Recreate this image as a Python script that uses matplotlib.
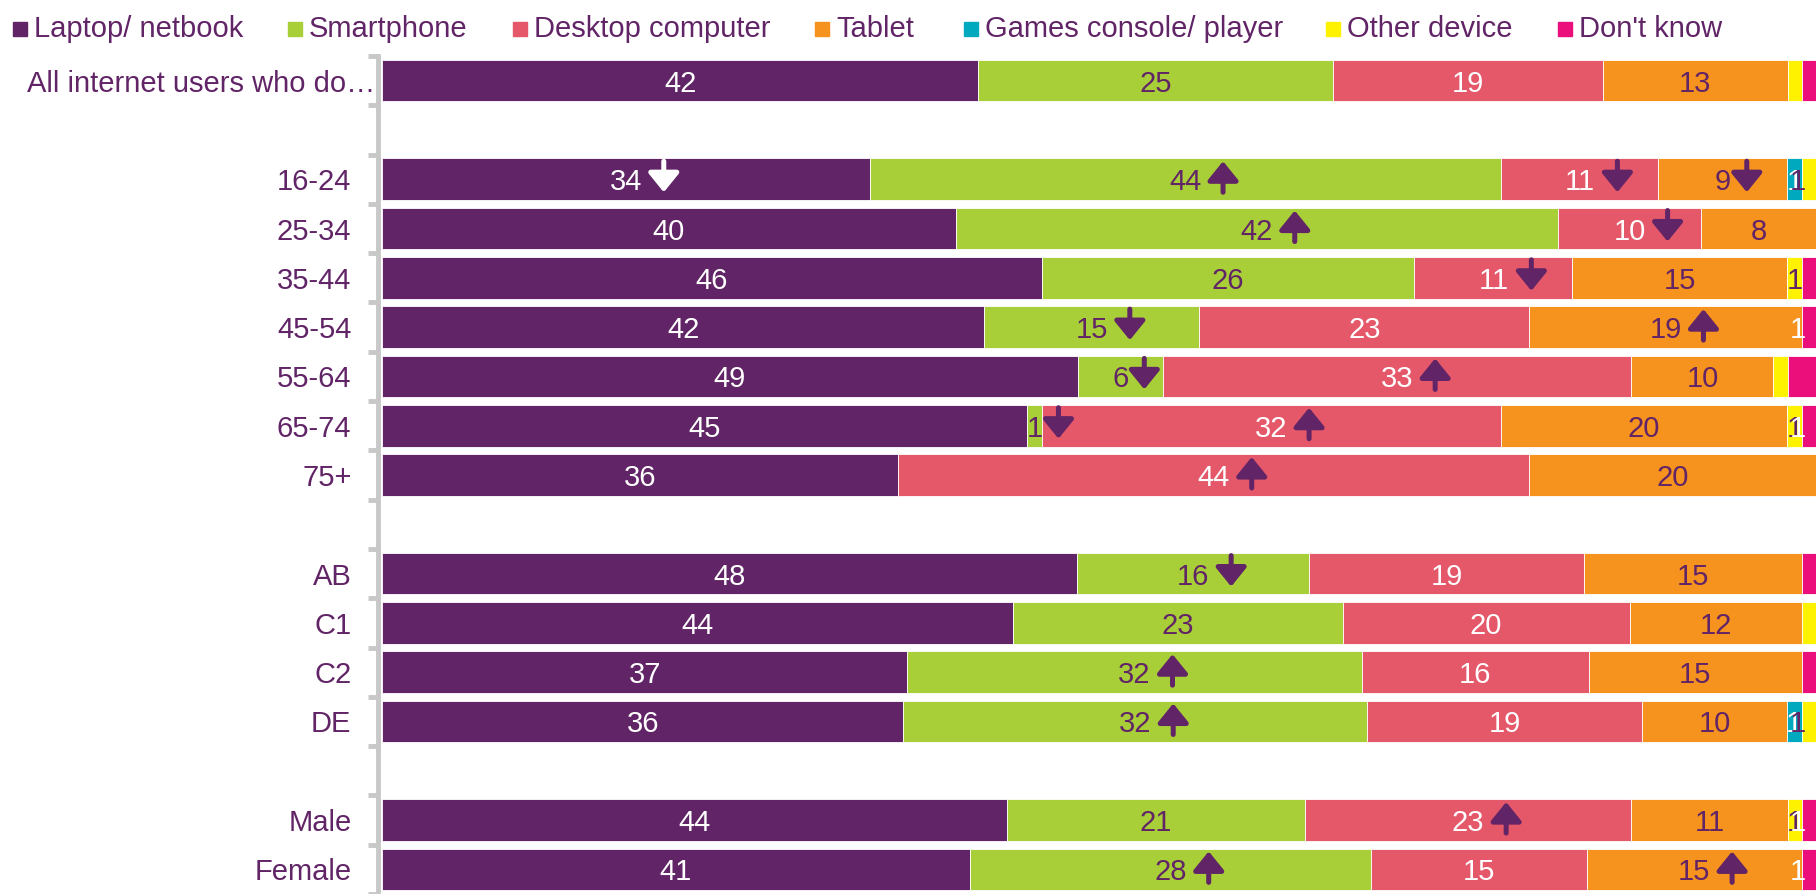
import numpy as np
import matplotlib.pyplot as plt
from matplotlib.patches import Rectangle
from matplotlib.transforms import offset_copy

plt.rcParams['font.family'] = ['Liberation Sans', 'DejaVu Sans']

# Rows, grouped; a blank slot is left between groups
groups = [
    ['All internet users who do…'],
    ['16-24', '25-34', '35-44', '45-54', '55-64', '65-74', '75+'],
    ['AB', 'C1', 'C2', 'DE'],
    ['Male', 'Female'],
]

series = ['Laptop/ netbook', 'Smartphone', 'Desktop computer', 'Tablet',
          'Games console/ player', 'Other device', "Don't know"]

laptop     = [42, 34, 40, 46, 42, 49, 45, 36, 48, 44, 37, 36, 44, 41]
smartphone = [25, 44, 42, 26, 15, 6, 1, 0, 16, 23, 32, 32, 21, 28]
desktop    = [19, 11, 10, 11, 23, 33, 32, 44, 19, 20, 16, 19, 23, 15]
tablet     = [13, 9, 8, 15, 19, 10, 20, 20, 15, 12, 15, 10, 11, 15]
games      = [0, 1, 0, 0, 0, 0, 0, 0, 0, 0, 0, 1, 0, 0]
other      = [1, 1, 0, 1, 0, 1, 1, 0, 0, 1, 0, 1, 1, 0]
dont_know  = [1, 0, 0, 1, 1, 2, 1, 0, 1, 0, 1, 0, 1, 1]

# significant differences vs all users
sig = {
    ('16-24', 'Laptop/ netbook'): 'down', ('16-24', 'Smartphone'): 'up',
    ('16-24', 'Desktop computer'): 'down', ('16-24', 'Tablet'): 'down',
    ('25-34', 'Smartphone'): 'up', ('25-34', 'Desktop computer'): 'down',
    ('35-44', 'Desktop computer'): 'down',
    ('45-54', 'Smartphone'): 'down', ('45-54', 'Tablet'): 'up',
    ('55-64', 'Smartphone'): 'down', ('55-64', 'Desktop computer'): 'up',
    ('65-74', 'Smartphone'): 'down', ('65-74', 'Desktop computer'): 'up',
    ('75+', 'Desktop computer'): 'up',
    ('AB', 'Smartphone'): 'down',
    ('C2', 'Smartphone'): 'up', ('DE', 'Smartphone'): 'up',
    ('Male', 'Desktop computer'): 'up',
    ('Female', 'Smartphone'): 'up', ('Female', 'Tablet'): 'up',
}

# small segments left without a value label
unlabelled = {
    ('All internet users who do…', 'Other device'), ('All internet users who do…', "Don't know"),
    ('35-44', "Don't know"), ('55-64', 'Other device'), ('55-64', "Don't know"),
    ('AB', "Don't know"), ('C1', 'Other device'), ('C2', "Don't know"),
}

purple = '#612466'
colors = ['#612466', '#a8cf38', '#e5586a', '#f6921e', '#00a9be', '#fff200', '#ea0f7a']
label_colors = ['white', purple, 'white', purple, 'white', purple, 'white']

# slot positions with gaps between groups
rows, ypos = [], []
slot = 0
for g in groups:
    for r in g:
        rows.append(r)
        ypos.append(slot)
        slot += 1
    slot += 1
ypos = np.array(ypos)
last = ypos[-1]

data = np.array([laptop, smartphone, desktop, tablet, games, other, dont_know], dtype=float)
shares = data / data.sum(axis=0) * 100

fig = plt.figure(figsize=(18.16, 8.94), dpi=100)
ax = fig.add_axes([382 / 1816, 0.0, 1 - 382 / 1816, 1 - 56 / 894])

left = np.zeros(len(rows))
bar_h = 0.845
for i, name in enumerate(series):
    ax.barh(ypos, shares[i], left=left, height=bar_h, color=colors[i],
            edgecolor='white', linewidth=0.6)
    for j, r in enumerate(rows):
        v = data[i, j]
        if v == 0 or (r, name) in unlabelled:
            continue
        xc = min(left[j] + shares[i, j] / 2, 98.75)
        txt = '%d' % v
        ax.text(xc, ypos[j], txt, ha='center', va='center_baseline', fontsize=21,
                color=label_colors[i])
        d = sig.get((r, name))
        if d:
            # arrow sits just right of the value, a little above centre
            dx = 38 if len(txt) > 1 else 24
            tip = 18 if d == 'up' else -13
            tr = offset_copy(ax.transData, fig=fig, x=dx, y=tip, units='dots')
            ac = 'white' if i == 0 else purple
            ax.annotate('', xy=(xc, ypos[j]), xycoords=tr,
                        xytext=(0, -31 if d == 'up' else 31), textcoords='offset pixels',
                        arrowprops=dict(arrowstyle='-|>,head_length=0.58,head_width=0.47',
                                        mutation_scale=20, lw=3.6, color=ac,
                                        shrinkA=0, shrinkB=0))
    left += shares[i]

ax.set_xlim(0, 100)
ax.set_ylim(last + 0.48, -0.5)

for s in ['top', 'right', 'bottom']:
    ax.spines[s].set_visible(False)
ax.spines['left'].set_color('#c8c8c8')
ax.spines['left'].set_linewidth(3.5)
ax.spines['left'].set_position(('outward', 3))
ax.set_xticks([])

ax.set_yticks(ypos[1:])
ax.set_yticklabels(rows[1:], fontsize=21, color=purple)
ax.tick_params(axis='y', which='major', length=0, pad=19)
ax.set_yticks(np.arange(-0.5, last + 0.6, 1), minor=True)
ax.tick_params(axis='y', which='minor', length=7, width=3.5, color='#c8c8c8')

# the long first label sits right up against the axis
ax.text(-0.45, ypos[0], rows[0], ha='right', va='center_baseline', fontsize=21, color=purple)

# legend across the top
legend_x = [13, 288, 513, 815, 964, 1326, 1558]
for name, c, lx in zip(series, colors, legend_x):
    fig.patches.append(Rectangle((lx / 1816, (894 - 36) / 894), 14 / 1816, 14 / 894,
                                 transform=fig.transFigure, color=c))
    fig.text((lx + 21) / 1816, 1 - 37 / 894, name, ha='left', va='baseline',
             fontsize=21, color=purple)

fig.savefig('out.png', dpi=100)
